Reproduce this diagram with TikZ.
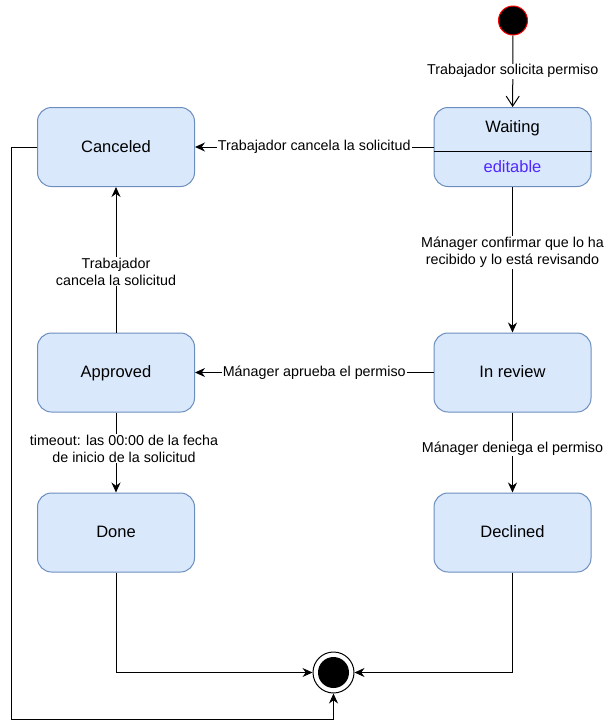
\documentclass[tikz,border=0pt]{standalone}
\usepackage{fontspec}
\setmainfont{Liberation Sans}
\usepackage{tikz}
\usetikzlibrary{positioning, arrows.meta, calc}
\definecolor{statefill}{HTML}{DAE8FC}
\definecolor{stateline}{HTML}{6C8EBF}
\definecolor{attrcolor}{RGB}{80,40,255}

\begin{document}
\begin{tikzpicture}[
    x=1pt, y=-1pt,
    every node/.style={font=\fontsize{14.3}{17}\selectfont},
    statebox/.style={rectangle, draw=stateline, fill=statefill, line width=1pt, rounded corners=14pt, minimum width=157pt, minimum height=79pt, text height=12pt, text depth=2pt, font=\fontsize{16.5}{20}\selectfont},
    trans/.style={draw, line width=1pt, -{Stealth[length=10pt, width=9pt]}},
    openarrow/.style={draw, line width=1pt, -{Straight Barb[length=10pt, width=13pt]}},
    lbl/.style={fill=white, align=center, inner sep=1pt}
]
\useasboundingbox (0,0) rectangle (607,721);

\node[statebox] (canceled) at (116,147) {Canceled};
\node[statebox] (waiting) at (512.5,147) {};
\node[statebox] (approved) at (116,372.5) {Approved};
\node[statebox] (review) at (512.5,372.5) {In review};
\node[statebox] (done) at (116,532.5) {Done};
\node[statebox] (declined) at (512.5,532.5) {Declined};

% waiting: name and attribute compartments
\draw[line width=1pt] (waiting.west) ++(0,4) coordinate (divl) -- (waiting.east |- divl);
\node[font=\fontsize{16.5}{20}\selectfont] (waitname) at (512.5,128) {Waiting};
\node[text=attrcolor, font=\fontsize{16.5}{20}\selectfont] (waitattr) at (512.5,167) {editable};

\node[circle, fill=black, draw=red, line width=1pt, minimum size=29pt, inner sep=0pt] (start) at (513,20.5) {};
\node[circle, draw=black, fill=white, line width=1pt, minimum size=41pt, inner sep=0pt] (end) at (333.5,672.5) {};
\node[circle, fill=black, minimum size=31pt, inner sep=0pt] (endcore) at (end) {};
\coordinate (loopcorner) at (11,719);

\draw[openarrow] (start) -- node[lbl] {Trabajador solicita permiso} (waiting);
\draw[trans] (waiting) -- node[lbl] {Trabajador cancela la solicitud} (canceled);
\draw[trans] (waiting) -- node[lbl, pos=0.45] {Mánager confirmar que lo ha\\recibido y lo está revisando} (review);
\draw[trans] (review) -- node[lbl] {Mánager aprueba el permiso} (approved);
\draw[trans] (approved) -- node[lbl, pos=0.42] {Trabajador\\cancela la solicitud} (canceled);
\draw[trans] (approved) -- node[lbl, xshift=8pt, pos=0.45] {timeout: las 00:00 de la fecha\\de inicio de la solicitud} (done);
\draw[trans] (review) -- node[lbl, pos=0.45] {Mánager deniega el permiso} (declined);
\draw[trans] (done) |- (end);
\draw[trans] (declined) |- (end);
\draw[trans] (canceled.west) -| (loopcorner) -| (end);

\end{tikzpicture}
\end{document}
